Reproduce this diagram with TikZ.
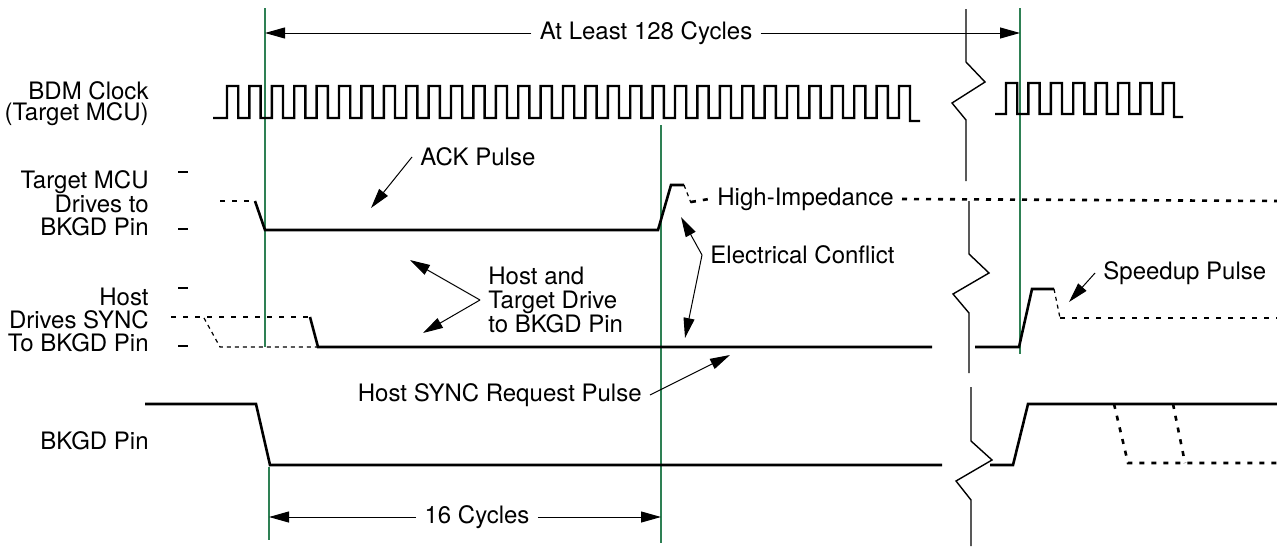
\documentclass[tikz,border=0pt]{standalone}
\usepackage{fontspec}
\setmainfont{TeX Gyre Heros}
\usetikzlibrary{arrows.meta,positioning}
\definecolor{guidegreen}{RGB}{46,128,84}

\begin{document}
\begin{tikzpicture}[x=0.5pt, y=-0.5pt,
  every node/.style={font=\fontsize{12}{11.8}\selectfont, inner sep=0pt},
  lbl/.style={align=right, anchor=east},
  note/.style={inner sep=4pt},
  sig/.style={line width=1.3pt},
  thin sig/.style={line width=0.6pt, dash pattern=on 2pt off 2pt},
  hiz/.style={line width=1.3pt, dash pattern=on 2.5pt off 3.5pt},
  clk/.style={line width=1.2pt},
  guide/.style={draw=guidegreen, line width=0.7pt},
  brk/.style={line width=0.7pt},
  arr/.style={-{Triangle[length=10pt,width=5.5pt]}, line width=0.5pt},
  tick/.style={line width=0.6pt}]
  \useasboundingbox (0,0) rectangle (1277,546);

  % Row labels
  \node[lbl, font=\fontsize{12}{10.5}\selectfont] (clklbl) at (149,104) {BDM Clock\\(Target MCU)};
  \node[lbl, font=\fontsize{12}{11.2}\selectfont] (tgtlbl) at (149,203) {Target MCU\\Drives to\\BKGD Pin};
  \node[lbl, font=\fontsize{12}{11.5}\selectfont] (hstlbl) at (149,320) {Host\\Drives SYNC\\To BKGD Pin};
  \node[lbl] (pinlbl) at (149,441) {BKGD Pin};

  % level ticks
  \draw[tick] (178,172) -- (188,172) (178,229) -- (188,229);
  \draw[tick] (178,288) -- (188,288) (178,346) -- (188,346);

  % Green reference lines
  \coordinate (g1t) at (265,8);    \coordinate (g1b) at (265,347);
  \coordinate (g2t) at (661,125);  \coordinate (g2b) at (661,543);
  \coordinate (g3t) at (1020,8);   \coordinate (g3b) at (1020,354);
  \coordinate (g4t) at (269,467);  \coordinate (g4b) at (269,540);
  \draw[guide] (g1t) -- (g1b) (g2t) -- (g2b) (g3t) -- (g3b) (g4t) -- (g4b);

  % BDM clock
  \draw[clk] (213,118) -- (227,118)
    foreach \k in {0,...,29} { -- ({227+22.4*\k},86) -- ({238.2+22.4*\k},86)
      -- ({238.2+22.4*\k},118) -- ({249.4+22.4*\k},118) }
    -- (899,86) -- (910,86) -- (910,121) -- (920,121);
  \draw[clk] (995,114) -- (1006,114)
    foreach \k in {0,...,6} { -- ({1006+22.4*\k},83) -- ({1017.2+22.4*\k},83)
      -- ({1017.2+22.4*\k},114) -- ({1028.4+22.4*\k},114) }
    -- (1162.8,83) -- (1174,83) -- (1174,117) -- (1183,117);

  % Target MCU drives
  \node[note, anchor=west] (himp) at (709,199) {High-Impedance};
  \draw[hiz] (220,201) -- (255,201);
  \draw[sig] (255,201) -- (265,230) -- (658,230) -- (671,185) -- (684,185);
  \draw[thin sig] (684,185) -- (691,203);
  \draw[hiz] (691,202) -- (himp.west);
  \draw[hiz] (himp.east) -- (1277,201);

  % Host drives
  \draw[hiz] (171,317) -- (310,317);
  \draw[thin sig] (204,318) -- (220,347) -- (318,347);
  \draw[sig] (310,317) -- (318,347) -- (932,347);
  \draw[sig] (975,347) -- (1019,347) -- (1032,289) -- (1054,289);
  \draw[thin sig] (1054,289) -- (1060,318);
  \draw[hiz] (1060,318) -- (1277,318);

  % BKGD pin
  \draw[sig] (145,404) -- (256,404) -- (270,465) -- (942,465);
  \draw[sig] (990,465) -- (1013,465) -- (1028,404) -- (1277,404);
  \draw[hiz] (1114,404) -- (1128,463) -- (1277,463);
  \draw[hiz] (1173,404) -- (1185,463);

  % Break marks
  \draw[brk] (966,9) -- (966,62) -- (985,82) -- (952,103) -- (966,120) -- (966,181);
  \draw[brk] (969,201) -- (969,254) -- (989,273) -- (953,294) -- (969,313) -- (969,373);
  \draw[brk] (971,387) -- (971,441) -- (992,460) -- (956,481) -- (971,500) -- (971,546);

  % Cycle spans
  \node[note] (cyc128) at (646,33) {At Least 128 Cycles};
  \coordinate (cyc128l) at (265,33);
  \coordinate (cyc128r) at (1020,33);
  \draw[arr] (cyc128.west) -- (cyc128l);
  \draw[arr] (cyc128.east) -- (cyc128r);
  \node[note] (cyc16) at (477,517) {16 Cycles};
  \coordinate (cyc16l) at (269,517);
  \coordinate (cyc16r) at (661,517);
  \draw[arr] (cyc16.west) -- (cyc16l);
  \draw[arr] (cyc16.east) -- (cyc16r);

  % Annotations
  \node[note, anchor=west] (ack) at (412,157) {ACK Pulse};
  \coordinate (ackp) at (371,208);
  \draw[arr] (ack.west) -- (ackp);

  \node[note, anchor=west] (elec) at (702,255) {Electrical Conflict};
  \coordinate (elecu) at (681,217);
  \coordinate (elecd) at (685,338);
  \draw[arr] (elec.west) -- (elecu);
  \draw[arr] (elec.west) -- (elecd);

  \node[note, anchor=west, align=left] (both) at (480,300) {Host and\\Target Drive\\to BKGD Pin};
  \coordinate (bothu) at (410,260);
  \coordinate (bothd) at (423,333);
  \draw[arr] (both.west) -- (bothu);
  \draw[arr] (both.west) -- (bothd);

  \node[note, anchor=east] (sync) at (650,395) {Host SYNC Request Pulse};
  \coordinate (syncp) at (730,355);
  \draw[arr] (sync.east) -- (syncp);

  \node[note, anchor=west] (speed) at (1095,273) {Speedup Pulse};
  \coordinate (speedp) at (1069,302);
  \draw[arr] (speed.west) -- (speedp);
\end{tikzpicture}
\end{document}
